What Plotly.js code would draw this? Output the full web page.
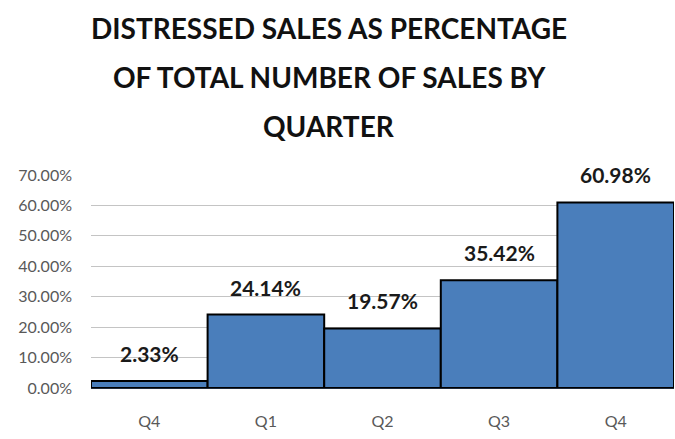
<!DOCTYPE html>
<html><head><meta charset="utf-8">
<script src="https://cdn.plot.ly/plotly-3.0.1.min.js"></script>
<style>body{margin:0;background:#fff}#c{width:675px;height:439px}</style>
</head><body><div id="c"></div>
<script>
const quarterLabels = ["Q4", "Q1", "Q2", "Q3", "Q4"];
const distressedShare = [0.0233, 0.2414, 0.1957, 0.3542, 0.6098];
const yTicks = [0, 0.1, 0.2, 0.3, 0.4, 0.5, 0.6, 0.7];
const titleLines = ["DISTRESSED SALES AS PERCENTAGE", "OF TOTAL NUMBER OF SALES BY", "QUARTER"];

const positions = quarterLabels.map((_, i) => i);
const FONT = "Lato, 'Open Sans', sans-serif";
const W = 675, H = 439, M = {l: 91, r: 1, t: 175, b: 51};
const plotH = H - M.t - M.b, plotW = W - M.l - M.r;

const valueLabels = distressedShare.map((v, i) => ({
  x: positions[i], y: v, xref: "x", yref: "y",
  text: (v * 100).toFixed(2) + "%",
  showarrow: false, yanchor: "bottom", yshift: 13,
  font: {family: FONT, size: 21, color: "#1a1a1a", weight: "bold"}
}));

const titleAnn = titleLines.map((t, i) => ({
  x: (329 - M.l) / plotW, xref: "paper", xanchor: "center",
  y: (H - M.b - (28 + i * 49)) / plotH, yref: "paper", yanchor: "middle",
  text: t, showarrow: false,
  font: {family: FONT, size: 28, color: "#111", weight: "bold"}
}));

Plotly.newPlot("c", [{
  type: "bar",
  x: positions,
  y: distressedShare,
  marker: {color: "#4A7EBB", line: {color: "#000000", width: 2}},
  hoverinfo: "skip"
}], {
  width: W, height: H,
  margin: M,
  paper_bgcolor: "#fff", plot_bgcolor: "#fff",
  bargap: 0,
  showlegend: false,
  annotations: titleAnn.concat(valueLabels),
  xaxis: {
    tickvals: positions, ticktext: quarterLabels,
    range: [-0.5, 4.5],
    showgrid: false, zeroline: false,
    showline: false, ticks: "",
    tickfont: {family: FONT, size: 16, color: "#595959"},
    ticklabelstandoff: 22,
    fixedrange: true
  },
  yaxis: {
    range: [0, 0.70],
    tickvals: yTicks, tickformat: ".2%",
    showgrid: true, gridcolor: "#c4c4c4", gridwidth: 1,
    zeroline: true, zerolinecolor: "#1f2a3a", zerolinewidth: 2,
    ticks: "", showline: false,
    tickfont: {family: FONT, size: 16, color: "#595959"},
    ticklabelstandoff: 18,
    fixedrange: true
  }
}, {displayModeBar: false, staticPlot: true});
</script></body></html>
